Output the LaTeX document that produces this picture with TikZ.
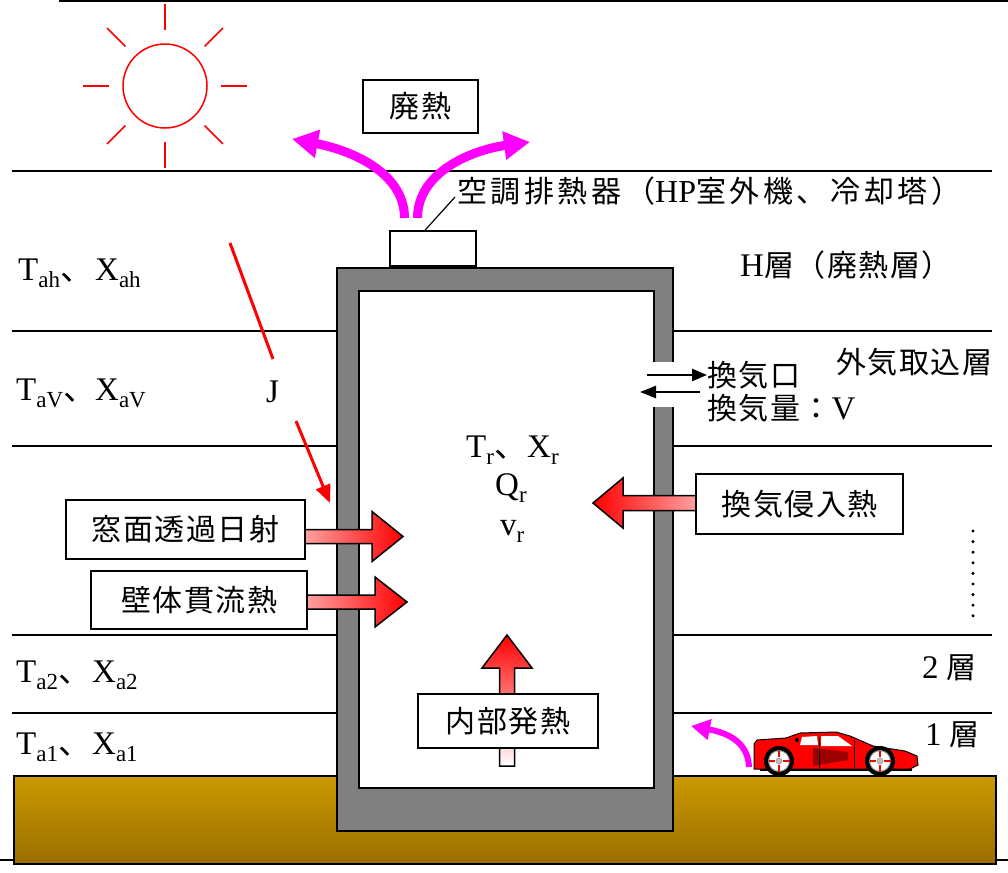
\documentclass[tikz,border=0pt]{standalone}
\usepackage{fontspec}
\setmainfont{Liberation Serif}
\newfontfamily\jp{Noto Sans CJK JP}[LetterSpace=5]
\newfontfamily\jpwide{Noto Sans CJK JP}[LetterSpace=12]
\usetikzlibrary{arrows.meta}
% lowered subscript used in the T/X labels
\newcommand\lsub[1]{\raisebox{-0.22em}{\fontsize{23}{23}\selectfont #1}}
\definecolor{groundtop}{RGB}{204,153,0}
\definecolor{groundbot}{RGB}{153,110,0}
\definecolor{wallgray}{RGB}{128,128,128}
\definecolor{heatpink}{RGB}{255,160,160}
\definecolor{darkred}{RGB}{150,0,0}
\definecolor{plume}{RGB}{255,0,255}
\begin{document}
\begin{tikzpicture}[x=1pt,y=-1pt,
  layer/.style={line width=1.8pt},
  rm/.style={inner sep=0pt,font=\fontsize{33}{33}\selectfont},
  jtxt/.style={inner sep=0pt,font=\fontsize{30}{30}\selectfont\jp},
  tbox/.style={draw,line width=1.5pt,fill=white,inner sep=0pt,font=\fontsize{30}{30}\selectfont\jp},
  blockarrow/.style={draw=black,line width=1.5pt},
  heat/.style={plume,line width=9pt,-{Triangle[length=26pt,width=27pt]}},
  ray/.style={red,line width=1.5pt}]
\useasboundingbox (0,0) rectangle (1008,872);

% frame edges
\draw[line width=2pt] (60,-3) -- (60,1.5) -- (1012,1.5);
\draw[line width=1.5pt] (-3,860) -- (1012,860);

% ground
\shadedraw[top color=groundtop,bottom color=groundbot,draw=black,line width=1.5pt]
  (14,776) rectangle (996,864);

% layer boundaries
\foreach \yy in {171,331,446,635,713}
  \draw[layer] (12,\yy) -- (992,\yy);

% building: wall and interior
\draw[fill=wallgray,line width=2pt] (337,268) rectangle (673,831);
\draw[fill=white,line width=1.5pt] (359,291) rectangle (654,788);
% ventilation opening in the right wall
\fill[white] (652,362) rectangle (675,407);

% sun
\draw[ray] (165,86) circle[radius=42];
\foreach \a in {0,45,...,315}
  \draw[ray] (165,86) ++(\a:56) -- ++(\a:26);

% rooftop heat rejection unit
\node[draw,line width=1.5pt,fill=white,minimum width=86pt,minimum height=35pt,inner sep=0pt] (unit) at (433,248.5) {};
\node[tbox,minimum width=115pt,minimum height=53pt] (waste) at (420.5,106.5) {廃熱};
\node[jtxt,anchor=west] (unitlbl) at (457,191) {\jpwide 空調排熱器（{\rmfamily\fontsize{32}{32}\selectfont HP}室外機、冷却塔）};
\coordinate (leadend) at (455,197);
\draw[line width=1.2pt] ([xshift=-8pt]unit.north) -- (leadend);

% waste heat plumes
\coordinate (plL) at (404.5,218);
\coordinate (plR) at (417.5,218);
\coordinate (tipL) at (292,139);
\coordinate (tipR) at (530,142);
\draw[heat] (plL) .. controls (404.5,172) and (350,150) .. (tipL);
\draw[heat] (plR) .. controls (417.5,172) and (472,150) .. (tipR);

% layer labels, left side
\node[rm,anchor=base west] (lh) at (18,280) {\makebox[77pt][l]{T\lsub{ah}{\jp 、}}X\lsub{ah}};
\node[rm,anchor=base west] (lv) at (16,400) {\makebox[79pt][l]{T\lsub{aV}{\jp 、}}X\lsub{aV}};
\node[rm,anchor=base west] (l2) at (16,682) {\makebox[76pt][l]{T\lsub{a2}{\jp 、}}X\lsub{a2}};
\node[rm,anchor=base west] (l1) at (16,754) {\makebox[76pt][l]{T\lsub{a1}{\jp 、}}X\lsub{a1}};

% layer labels, right side
\node[jtxt,anchor=west] (hlayer) at (740,265) {{\rmfamily\fontsize{33}{33}\selectfont H}層（廃熱層）};
\node[jtxt,anchor=west] (intake) at (836,362) {外気取込層};
\node[jtxt,anchor=west] (lay2) at (922,668) {{\rmfamily\fontsize{33}{33}\selectfont 2} 層};
\node[jtxt,anchor=west] (lay1) at (925,735) {{\rmfamily\fontsize{33}{33}\selectfont 1} 層};
\foreach \k in {0,...,8}
  \fill (973,531+10.6*\k) circle[radius=1.7];

% ventilation
\node[jtxt,anchor=west] (vent) at (707,375) {換気口};
\node[jtxt,anchor=west] (ventq) at (707,408) {換気量：{\rmfamily\fontsize{33}{33}\selectfont V}};
\coordinate (vinA) at (647,375);
\coordinate (vinB) at (707,375);
\coordinate (voutA) at (700,392);
\coordinate (voutB) at (640,392);
\draw[line width=2.5pt,-{Triangle[length=15pt,width=12pt]}] (vinA) -- (vinB);
\draw[line width=2.5pt,-{Triangle[length=16pt,width=12pt]}] (voutA) -- (voutB);

% solar radiation J
\coordinate (jA) at (230,243);
\coordinate (jB) at (273,359);
\coordinate (jC) at (296,421);
\coordinate (jD) at (330,503);
\draw[red,line width=3pt] (jA) -- (jB);
\node[rm,anchor=base west] (J) at (266,402) {J};
\draw[red,line width=3pt,-{Triangle[length=18pt,width=15pt]}] (jC) -- (jD);

% room state
\node[rm,anchor=base west] (room) at (466,457) {\makebox[61pt][l]{T\lsub{r}{\jp 、}}X\lsub{r}};
\node[rm,anchor=base west] (heatq) at (495,495) {Q\lsub{r}};
\node[rm,anchor=base west] (velo) at (500,535) {v\lsub{r}};

% heat gain arrows
\shadedraw[blockarrow,left color=heatpink,right color=red]
  (305,529.5) -- (372,529.5) -- (372,511.5) -- (403,536.5) -- (372,561.5) -- (372,543.5) -- (305,543.5) -- cycle;
\shadedraw[blockarrow,left color=heatpink,right color=red]
  (307,595) -- (375,595) -- (375,577) -- (407,602) -- (375,627) -- (375,609) -- (307,609) -- cycle;
\shadedraw[blockarrow,left color=red,right color=heatpink]
  (696,495.5) -- (623,495.5) -- (623,478) -- (593,503) -- (623,528) -- (623,510.5) -- (696,510.5) -- cycle;
\shadedraw[blockarrow,bottom color=white,top color=red]
  (499.5,766) -- (499.5,668) -- (482,668) -- (507,635) -- (532,668) -- (514.5,668) -- (514.5,766) -- cycle;

\node[tbox,minimum width=239pt,minimum height=59pt] (win) at (185.5,529.5) {窓面透過日射};
\node[tbox,minimum width=216pt,minimum height=58pt] (wall) at (199,600) {壁体貫流熱};
\node[tbox,minimum width=207pt,minimum height=60pt] (inf) at (799.5,504) {換気侵入熱};
\node[tbox,minimum width=180pt,minimum height=54pt] (intern) at (508,721) {内部発熱};

% car exhaust
\coordinate (exA) at (749,767);
\coordinate (exB) at (691,726);
\draw[plume,line width=6pt,-{Triangle[length=19pt,width=20pt]}] (exA) .. controls (748,742) and (728,733) .. (exB);

% car
\draw[fill=red,line width=1pt]
  (754,744) -- (757,740) -- (786,738) -- (800,733) -- (836,732) -- (850,736)
  -- (873,746) -- (905,751) -- (917,756) -- (918,765) -- (910,769) -- (754,769) -- cycle;
\fill[white] (802,737) -- (817,736) -- (818,745) -- (800,745) -- cycle;
\fill[white] (821,736) -- (838,736) -- (852,746) -- (821,746) -- cycle;
\fill (797,740) circle[radius=2];
\fill[darkred] (813,748) -- (848,752) -- (848,760) -- (813,766) -- cycle;
\foreach \k in {0,...,4}
  \draw[red!70!black,line width=0.5pt] (813,750+3.5*\k) -- (848,754+1.3*\k);
\draw[line width=1pt] (819,738) -- (819,768);
\draw[line width=1pt] (854,740) -- (854,768);
\draw[line width=2pt] (760,769.5) -- (912,769.5);
\foreach \cx in {779,880} {
  \fill (\cx,761) circle[radius=15];
  \draw[fill=white,draw=gray,line width=1pt] (\cx,761) circle[radius=10.5];
  \foreach \a in {0,90,180,270}
    \draw[red,line width=2pt] (\cx,761) ++(\a:4) -- ++(\a:6.5);
  \draw[fill=lightgray,draw=gray] (\cx,761) circle[radius=3];
}
\end{tikzpicture}
\end{document}
